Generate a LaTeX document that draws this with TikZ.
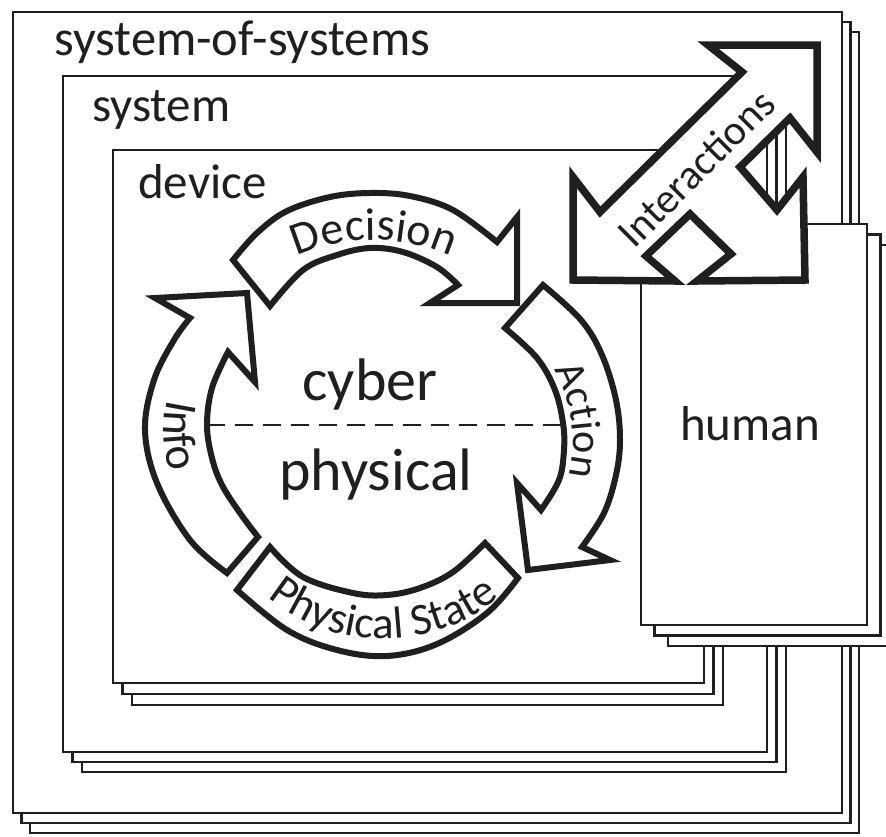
\documentclass[tikz,border=0pt]{standalone}
\usepackage{fontspec}
\setmainfont{Carlito}
\usetikzlibrary{decorations.text}
\definecolor{ink}{HTML}{1F1F1F}
\newcommand\boxstack[6]{%
  \draw[boxline] ({#1+2*#5},{#2+2*#6}) rectangle ({#3+2*#5},{#4+2*#6});
  \draw[boxline] ({#1+#5},{#2+#6}) rectangle ({#3+#5},{#4+#6});
  \draw[boxline] (#1,#2) rectangle (#3,#4);}
\newcommand\bigfont{\fontsize{49}{49}\selectfont}
\newcommand\sosfont{\fontsize{50.5}{50.5}\selectfont}
\newcommand\corefont{\fontsize{60}{60}\selectfont}
\newcommand\lblfont{\fontsize{42}{42}\selectfont}
\newcommand\decfont{\fontsize{46}{46}\selectfont}
\newcommand\infofont{\fontsize{46}{46}\selectfont}
\newcommand\psfont{\fontsize{45}{45}\selectfont}
\begin{document}
\begin{tikzpicture}[x=1pt,y=-1pt,
  boxline/.style={draw=ink,line width=2.6pt,fill=white},
  ringarrow/.style={draw=ink,line width=6pt,fill=white,line join=miter},
  triarrow/.style={draw=ink,line width=7.5pt,fill=white,line join=miter},
  boxlabel/.style={text=ink,font=\bigfont,inner sep=0pt,anchor=base west},
  corelabel/.style={text=ink,font=\corefont,inner sep=0pt,anchor=base},
  smoothline/.style={smooth,tension=0.6}
]
\useasboundingbox (0,0) rectangle (886,836);
\fill[white] (0,0) rectangle (886,836);
\clip (0,0) rectangle (886,836);

% nested stacks
\boxstack{13}{12}{842}{813}{8.5}{10}
\node[boxlabel,font=\sosfont] (soslabel) at (54,55) {system-of-systems};
\boxstack{63}{76}{767}{752}{9.5}{10}
\node[boxlabel] (syslabel) at (92,121) {system};
\boxstack{113}{150}{704}{683}{9.5}{11}
\node[boxlabel] (devlabel) at (138,198) {device};

% Decision arrow
\draw[ringarrow] plot[smoothline] coordinates {(233,260) (257,233) (287,211) (330,197) (370,193) (410,196) (453,210) (497,242)}
  -- (517,217) -- (517,303) -- (430,303) -- (458,285)
  -- plot[smoothline] coordinates {(458,285) (437,267) (403,252) (370,248) (337,255) (303,270) (270,306)} -- cycle;
% Info arrow
\draw[ringarrow] plot[smoothline] coordinates {(227,573) (190,540) (157,483) (145,430) (154,380) (174,340) (190,318)}
  -- (155,298) -- (247,293) -- (255,382) -- (228,352)
  -- plot[smoothline] coordinates {(228,352) (212,388) (207,425) (212,458) (222,485) (240,513) (258,537)} -- cycle;
% Action arrow
\draw[ringarrow] plot[smoothline] coordinates {(543,285) (581,320) (602,355) (616,400) (620,440) (616,475) (604,513) (582,547)}
  -- (610,560) -- (528,570) -- (517,483) -- (541,510)
  -- plot[smoothline] coordinates {(541,510) (559,480) (564,450) (563,423) (555,390) (537,358) (505,328)} -- cycle;
% Physical State band
\draw[ringarrow] plot[smoothline] coordinates {(237,590) (287,630) (337,650) (387,656) (437,644) (487,613) (518,578)}
  -- plot[smoothline] coordinates {(485,543) (453,572) (420,588) (387,595) (353,593) (303,577) (270,547)} -- cycle;

% arc labels
\path[decorate,decoration={text along path,text align=center,text={|\decfont\color{ink}|Decision}}]
  (374,430) ++(-130:190) arc[start angle=-130,end angle=-50,radius=190];
\path[decorate,decoration={text along path,text align=center,text={|\psfont\color{ink}|Physical State}}]
  (384,456) ++(145:183) arc[start angle=145,end angle=35,radius=183];
\path[decorate,decoration={text along path,text align=center,text={|\lblfont\color{ink}|Action}}]
  (423,442) ++(-40:150) arc[start angle=-40,end angle=24,radius=150];
\path[decorate,decoration={text along path,text align=center,text={|\infofont\color{ink}|Info}}]
  (309,431) ++(210:145) arc[start angle=210,end angle=146,radius=145];

% core
\coordinate (dashL) at (207,425);
\coordinate (dashR) at (561,425);
\draw[ink,line width=2.8pt,dash pattern=on 18pt off 10pt] (dashL) -- (dashR);
\node[corelabel] (cyber) at (370,400) {cyber};
\node[corelabel] (physical) at (376,490) {physical};

% human stack
\boxstack{641}{224}{867}{625}{13.5}{10.5}
\node[text=ink,font=\bigfont,inner sep=0pt,anchor=base] (human) at (750,440) {human};

% Interactions arrow
\fill[white] (690,214) -- (731,254) -- (686,283) -- (646,256) -- cycle;
\draw[triarrow] (708,45) -- (817,45) -- (817,152) -- (790,118) -- (740,167) -- (777,210) -- (803,177)
  -- (805,280) -- (697,281) -- (731,254) -- (690,214) -- (646,256) -- (675,281) -- (573,280)
  -- (573,177) -- (600,212) -- (742,72) -- cycle;
\node[rotate=45,text=ink,font=\lblfont,inner sep=0pt] (interactions) at (696,168) {Interactions};
\end{tikzpicture}
\end{document}
